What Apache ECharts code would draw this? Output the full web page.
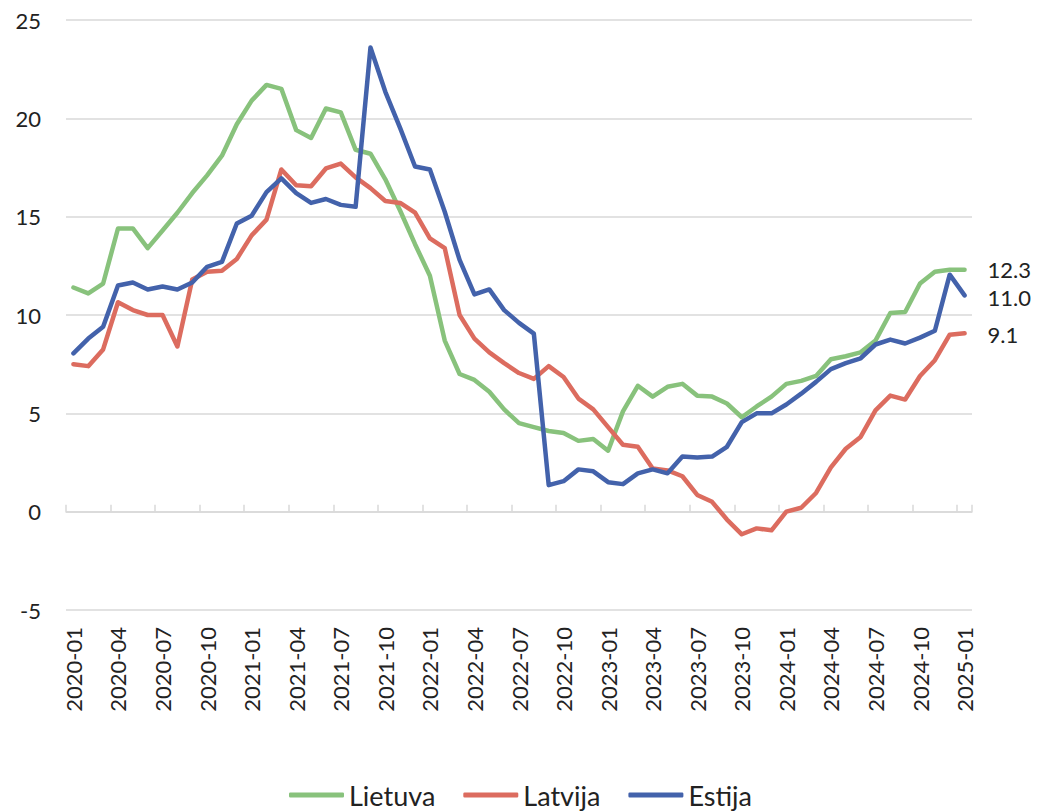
<!DOCTYPE html>
<html>
<head>
<meta charset="utf-8">
<title>Lietuva, Latvija, Estija</title>
<script src="https://cdn.jsdelivr.net/npm/echarts@6/dist/echarts.min.js"></script>
<style>
  html, body { margin: 0; padding: 0; background: #fff; }
  #chart { width: 1041px; height: 812px; }
</style>
</head>
<body>
<div id="chart"></div>
<script>
// --- data ---
var months = [
  '2020-01', '2020-02', '2020-03', '2020-04', '2020-05', '2020-06', '2020-07', '2020-08', '2020-09', '2020-10', '2020-11', '2020-12',
  '2021-01', '2021-02', '2021-03', '2021-04', '2021-05', '2021-06', '2021-07', '2021-08', '2021-09', '2021-10', '2021-11', '2021-12',
  '2022-01', '2022-02', '2022-03', '2022-04', '2022-05', '2022-06', '2022-07', '2022-08', '2022-09', '2022-10', '2022-11', '2022-12',
  '2023-01', '2023-02', '2023-03', '2023-04', '2023-05', '2023-06', '2023-07', '2023-08', '2023-09', '2023-10', '2023-11', '2023-12',
  '2024-01', '2024-02', '2024-03', '2024-04', '2024-05', '2024-06', '2024-07', '2024-08', '2024-09', '2024-10', '2024-11', '2024-12',
  '2025-01'
];

var lietuva = [
  11.4, 11.1, 11.6, 14.4, 14.4, 13.4, 14.3, 15.2, 16.2, 17.1, 18.1, 19.7,
  20.9, 21.7, 21.5, 19.4, 19.0, 20.5, 20.3, 18.4, 18.2, 16.9, 15.3, 13.6,
  12.0, 8.7, 7.0, 6.7, 6.1, 5.2, 4.5, 4.3, 4.1, 4.0, 3.6, 3.7,
  3.1, 5.1, 6.4, 5.85, 6.35, 6.5, 5.9, 5.85, 5.5, 4.8, 5.35, 5.85,
  6.5, 6.65, 6.9, 7.75, 7.9, 8.1, 8.7, 10.1, 10.15, 11.6, 12.2, 12.3,
  12.3
];

var latvija = [
  7.5, 7.4, 8.25, 10.65, 10.25, 10.0, 10.0, 8.4, 11.8, 12.2, 12.25, 12.85,
  14.05, 14.85, 17.4, 16.6, 16.55, 17.45, 17.7, 17.0, 16.45, 15.8, 15.7, 15.2,
  13.9, 13.4, 10.0, 8.8, 8.1, 7.55, 7.05, 6.75, 7.4, 6.85, 5.75, 5.2,
  4.3, 3.4, 3.3, 2.2, 2.1, 1.8, 0.85, 0.5, -0.4, -1.15, -0.85, -0.95,
  0.0, 0.2, 0.95, 2.25, 3.2, 3.8, 5.15, 5.9, 5.7, 6.9, 7.7, 9.0,
  9.07
];

var estija = [
  8.05, 8.8, 9.4, 11.5, 11.65, 11.3, 11.45, 11.3, 11.65, 12.45, 12.7, 14.65,
  15.05, 16.25, 16.95, 16.2, 15.7, 15.9, 15.6, 15.5, 23.6, 21.35, 19.5, 17.55,
  17.4, 15.25, 12.8, 11.05, 11.3, 10.25, 9.6, 9.05, 1.35, 1.55, 2.15, 2.05,
  1.5, 1.4, 1.95, 2.15, 1.95, 2.8, 2.75, 2.8, 3.3, 4.55, 5.0, 5.0,
  5.45, 6.0, 6.6, 7.25, 7.55, 7.8, 8.5, 8.75, 8.55, 8.85, 9.2, 12.05,
  11.0
];

var seriesNames = ['Lietuva', 'Latvija', 'Estija'];
var colors = ['#88c27c', '#dc6c5f', '#4362ab'];

(function() {
  var ink = '#222222';
  var rule = '#d9d9d9';
  var font = 'Lato, "Open Sans", sans-serif';

  function lineSeries(name, data, color, labelOffset) {
    return {
      name: name,
      type: 'line',
      data: data,
      color: color,
      symbol: 'none',
      showSymbol: false,
      lineStyle: { color: color, width: 4.5, cap: 'round', join: 'round' },
      endLabel: {
        show: true,
        distance: 23,
        offset: labelOffset,
        color: ink,
        fontSize: 22,
        fontFamily: font,
        formatter: function(p) { return Number(p.value).toFixed(1); }
      }
    };
  }

  var chart = echarts.init(document.getElementById('chart'), null, { renderer: 'svg' });
  chart.setOption({
    animation: false,
    textStyle: { fontFamily: font },
    legend: {
      data: seriesNames,
      left: 'center',
      top: 781,
      padding: 0,
      icon: 'roundRect',
      itemWidth: 55,
      itemHeight: 5,
      itemGap: 28,
      textStyle: { color: ink, fontSize: 27, lineHeight: 28, fontFamily: font }
    },
    grid: { left: 66, right: 69, top: 20, bottom: 202 },
    xAxis: [
      {
        // labels along the bottom edge
        type: 'category',
        data: months,
        position: 'bottom',
        boundaryGap: true,
        axisLine: { show: false, onZero: false },
        axisTick: { show: false },
        axisLabel: {
          interval: 2,
          rotate: 90,
          margin: 17,
          color: ink,
          fontSize: 22,
          fontFamily: font
        }
      },
      {
        // axis line with ticks crossing at zero
        type: 'category',
        data: months,
        position: 'top',
        boundaryGap: true,
        axisLine: { show: true, onZero: true, lineStyle: { color: rule, width: 1.5 } },
        axisTick: { show: true, interval: 2, inside: false, length: 7, lineStyle: { color: rule, width: 1.5 } },
        axisLabel: { show: false }
      }
    ],
    yAxis: {
      type: 'value',
      min: -5,
      max: 25,
      interval: 5,
      axisLine: { show: false },
      axisTick: { show: false },
      axisLabel: { color: ink, fontSize: 22, fontFamily: font, margin: 25 },
      splitLine: { lineStyle: { color: rule, width: 1.5 } }
    },
    series: [
      lineSeries(seriesNames[0], lietuva, colors[0], [0, 0]),
      lineSeries(seriesNames[1], latvija, colors[1], [0, 1]),
      lineSeries(seriesNames[2], estija, colors[2], [0, 2])
    ]
  });
  window.addEventListener('resize', function() { chart.resize(); });
})();
</script>
</body>
</html>
